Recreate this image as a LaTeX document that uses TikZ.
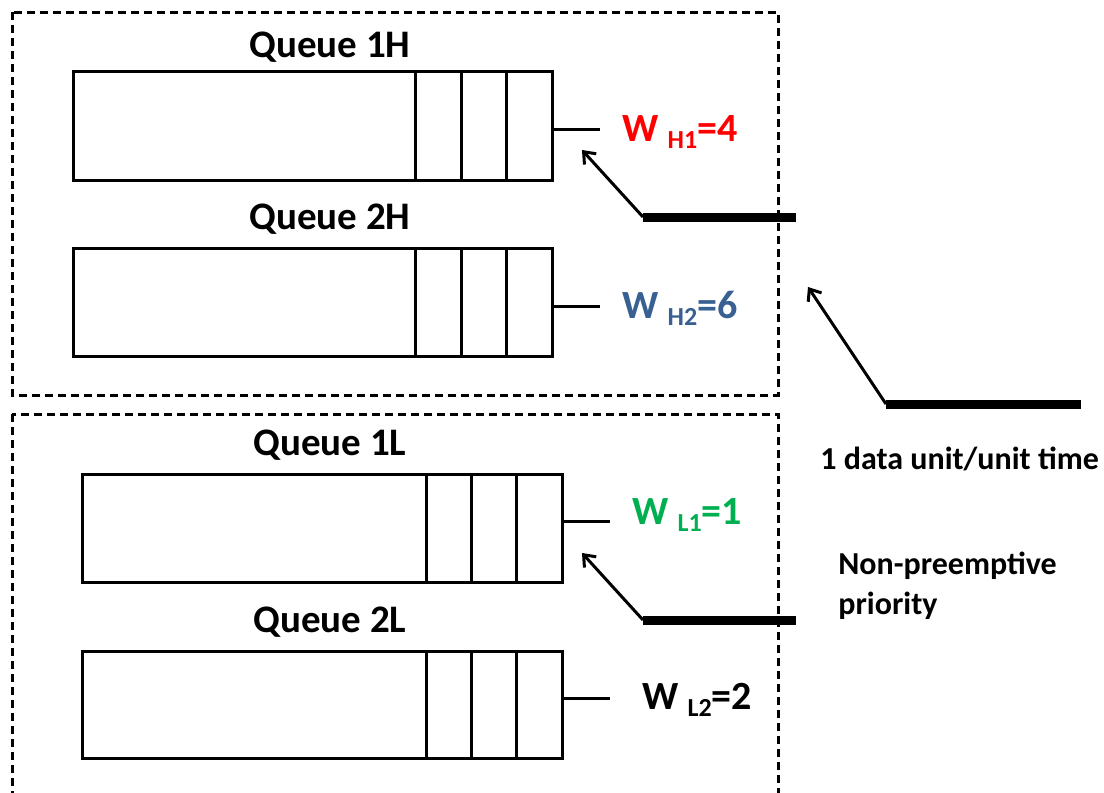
\documentclass[tikz,border=0pt]{standalone}
\usepackage{fontspec}
\setmainfont{Carlito}
\usetikzlibrary{arrows.meta}
\definecolor{wred}{RGB}{255,0,0}
\definecolor{wblue}{RGB}{56,96,146}
\definecolor{wgreen}{RGB}{0,176,80}
\tikzset{
  qbox/.style={draw, line width=1.5pt},
  qline/.style={line width=1.5pt},
  dbox/.style={draw, line width=1.5pt, dash pattern=on 4.2pt off 2.3pt},
  qlabel/.style={font=\bfseries\fontsize{19.5}{22}\selectfont, inner sep=0pt},
  wlabel/.style={font=\bfseries\fontsize{20}{24}\selectfont, anchor=west, inner sep=0pt},
  bar/.style={line width=4.5pt},
  feed/.style={line width=1.5pt, -{Straight Barb[length=5pt,width=8pt,line width=1.5pt]}},
  txt/.style={font=\bfseries\fontsize{16}{20}\selectfont, inner sep=0pt},
}
\newcommand{\wsub}[1]{\raisebox{-0.35ex}{\fontsize{13}{15}\selectfont #1}}
\begin{document}
\begin{tikzpicture}[x=0.5pt,y=-0.5pt]
\useasboundingbox (0,0) rectangle (1104,793);
\begin{scope}
\clip (0,0) rectangle (1104,793);
% dashed boxes
\draw[dbox] (12,12) rectangle (778,395);
\draw[dbox] (12,414) rectangle (778,820);
\end{scope}
% queues
\foreach \n/\xa/\xb/\da/\db/\dc/\ya/\yb in {q1h/72/551/415/461/506/70/179, q2h/72/551/415/461/506/247/355, q1l/81/561/426/471/516/473/581, q2l/81/561/426/471/516/650/757}{
  \node[qbox, minimum width={(\xb-\xa)*0.5pt}, minimum height={(\yb-\ya)*0.5pt}, inner sep=0pt, anchor=north west] (\n) at (\xa,\ya) {};
  \draw[qline] (\da,\ya) -- (\da,\yb) (\db,\ya) -- (\db,\yb) (\dc,\ya) -- (\dc,\yb);
}
% labels
\node[qlabel] (l1h) at (330,47) {Queue 1H};
\node[qlabel] (l2h) at (330,219) {Queue 2H};
\node[qlabel] (l1l) at (330,445) {Queue 1L};
\node[qlabel] (l2l) at (330,622) {Queue 2L};
% output lines
\coordinate (o1h) at (600,129);
\coordinate (o2h) at (600,306);
\coordinate (o1l) at (610,521);
\coordinate (o2l) at (610,698);
\draw[qline] (o1h -| q1h.east) -- (o1h);
\draw[qline] (o2h -| q2h.east) -- (o2h);
\draw[qline] (o1l -| q1l.east) -- (o1l);
\draw[qline] (o2l -| q2l.east) -- (o2l);
% weights
\node[wlabel, text=wred] (w1h) at (622,132) {W \wsub{H1}=4};
\node[wlabel, text=wblue] (w2h) at (622,308) {W \wsub{H2}=6};
\node[wlabel, text=wgreen] (w1l) at (632,515) {W \wsub{L1}=1};
\node[wlabel] (w2l) at (642,700) {W \wsub{L2}=2};
% servers
\coordinate (b1a) at (643,217); \coordinate (b1b) at (796,217); \coordinate (t1) at (582,150);
\coordinate (b2a) at (886,404); \coordinate (b2b) at (1081,404); \coordinate (t2) at (808,287);
\coordinate (b3a) at (643,620); \coordinate (b3b) at (796,620); \coordinate (t3) at (582,553);
\draw[bar] (b1a) -- (b1b);
\draw[bar] (b2a) -- (b2b);
\draw[bar] (b3a) -- (b3b);
\draw[feed] (b1a) -- (t1);
\draw[feed] (b2a) -- (t2);
\draw[feed] (b3a) -- (t3);
% texts
\node[txt, anchor=west] (rate) at (820,459) {1 data unit/unit time};
\node[txt, anchor=north west, align=left] (prio) at (838,552) {Non-preemptive\\priority};
\end{tikzpicture}
\end{document}
